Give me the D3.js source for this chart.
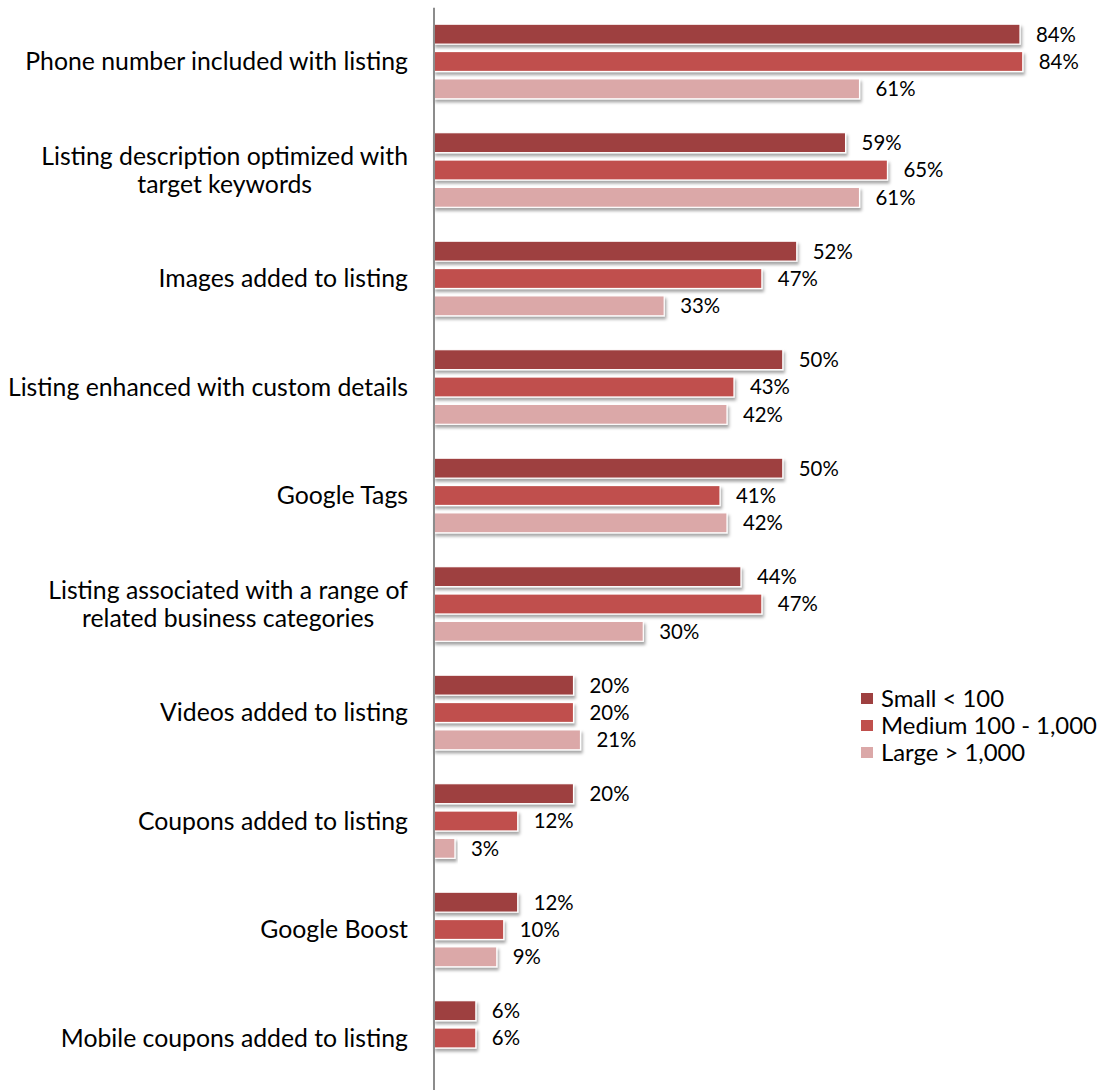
<!DOCTYPE html>
<html><head><meta charset="utf-8">
<script src="https://cdn.jsdelivr.net/npm/d3@7"></script>
<style>body{margin:0;background:#fff}svg{display:block}</style>
</head><body>
<svg id="c" width="1106" height="1090"></svg>
<script>
const categories = [
  "Phone number included with listing",
  "Listing description optimized with\ntarget keywords",
  "Images added to listing",
  "Listing enhanced with custom details",
  "Google Tags",
  "Listing associated with a range of\nrelated business categories",
  "Videos added to listing",
  "Coupons added to listing",
  "Google Boost",
  "Mobile coupons added to listing"
];
const seriesNames = ["Small < 100", "Medium 100 - 1,000", "Large > 1,000"];
const small  = [84, 59, 52, 50, 50, 44, 20, 20, 12, 6];
const medium = [84.4, 65, 47, 43, 41, 47, 20, 12, 10, 6];
const large  = [61, 61, 33, 42, 42, 30, 21, 3, 9, null];
const colors = ["#9E4040", "#C0504D", "#DBA8A8"];

const seriesValues = [small, medium, large];
const svg = d3.select("#c");
const font = "Lato, 'Open Sans', sans-serif";

function fitSize(str, target, base) {
  const t = svg.append("text").attr("font-family", font).attr("font-size", base).text(str);
  const w = t.node().getComputedTextLength();
  t.remove();
  return base * target / w;
}
const catSize = fitSize("Phone number included with listing", 383, 20);
const valSize = fitSize("84%", 40, 18);
const legSize = fitSize("Medium 100 - 1,000", 216, 20);

const defs = svg.append("defs");
const f = defs.append("filter").attr("id","sh").attr("x","-5%").attr("y","-30%").attr("width","115%").attr("height","190%");
f.append("feDropShadow").attr("dx",1.5).attr("dy",3).attr("stdDeviation",1.8).attr("flood-color","#000").attr("flood-opacity",0.35);

const x = d3.scaleLinear().domain([0, 100]).range([434, 434 + 697.6]);
const y = d3.scaleBand().domain(categories).range([7.25, 1092.25]).padding(0);
const inner = d3.scaleBand().domain(seriesNames).range([-41, 41]).paddingInner(0.27).paddingOuter(0.135);
const fmt = v => Math.round(v) + "%";

const g = svg.append("g");
categories.forEach((cat, i) => {
  const c = y(cat) + y.bandwidth() / 2;
  seriesNames.forEach((s, j) => {
    const v = seriesValues[j][i];
    if (v == null) return;
    const by = c + inner(s);
    g.append("rect")
      .attr("x", x(0)).attr("y", by)
      .attr("width", x(v) - x(0)).attr("height", inner.bandwidth())
      .attr("fill", colors[j]).attr("stroke", "#fff").attr("stroke-width", 1.2)
      .attr("filter", "url(#sh)");
    g.append("text")
      .attr("x", x(v) + 16).attr("y", by + inner.bandwidth() / 2)
      .attr("dy", "0.36em")
      .attr("font-family", font).attr("font-size", valSize).attr("fill", "#000")
      .text(fmt(v));
  });
  const lines = cat.split("\n");
  const t = svg.append("text").attr("font-family", font).attr("font-size", catSize).attr("fill", "#000");
  const lh = 28;
  const y0 = c - (lines.length - 1) * lh / 2;
  const tsp = lines.map((ln, k) => t.append("tspan").attr("y", y0 + k * lh).attr("dy", "0.36em").text(ln));
  const widths = tsp.map(s => s.node().getComputedTextLength());
  const maxW = d3.max(widths);
  const cx = 408 - maxW / 2;
  tsp.forEach(s => s.attr("x", cx).attr("text-anchor", "middle"));
});

const axis = d3.axisLeft(y).tickSize(0).tickFormat("");
svg.append("g").attr("transform", `translate(${x(0) - 0.5},0)`).call(axis)
  .call(a => a.select(".domain").attr("stroke", "#8c8c8c").attr("stroke-width", 2));

const leg = svg.append("g").attr("transform", "translate(861,698.5)");
seriesNames.forEach((s, j) => {
  const r = leg.append("g").attr("transform", `translate(0,${j * 27})`);
  r.append("rect").attr("x", 0).attr("y", -5.5).attr("width", 12).attr("height", 11).attr("fill", colors[j]);
  r.append("text").attr("x", 20).attr("y", 0).attr("dy", "0.36em")
    .attr("font-family", font).attr("font-size", legSize).attr("fill", "#000").text(s);
});
</script>
</body></html>
